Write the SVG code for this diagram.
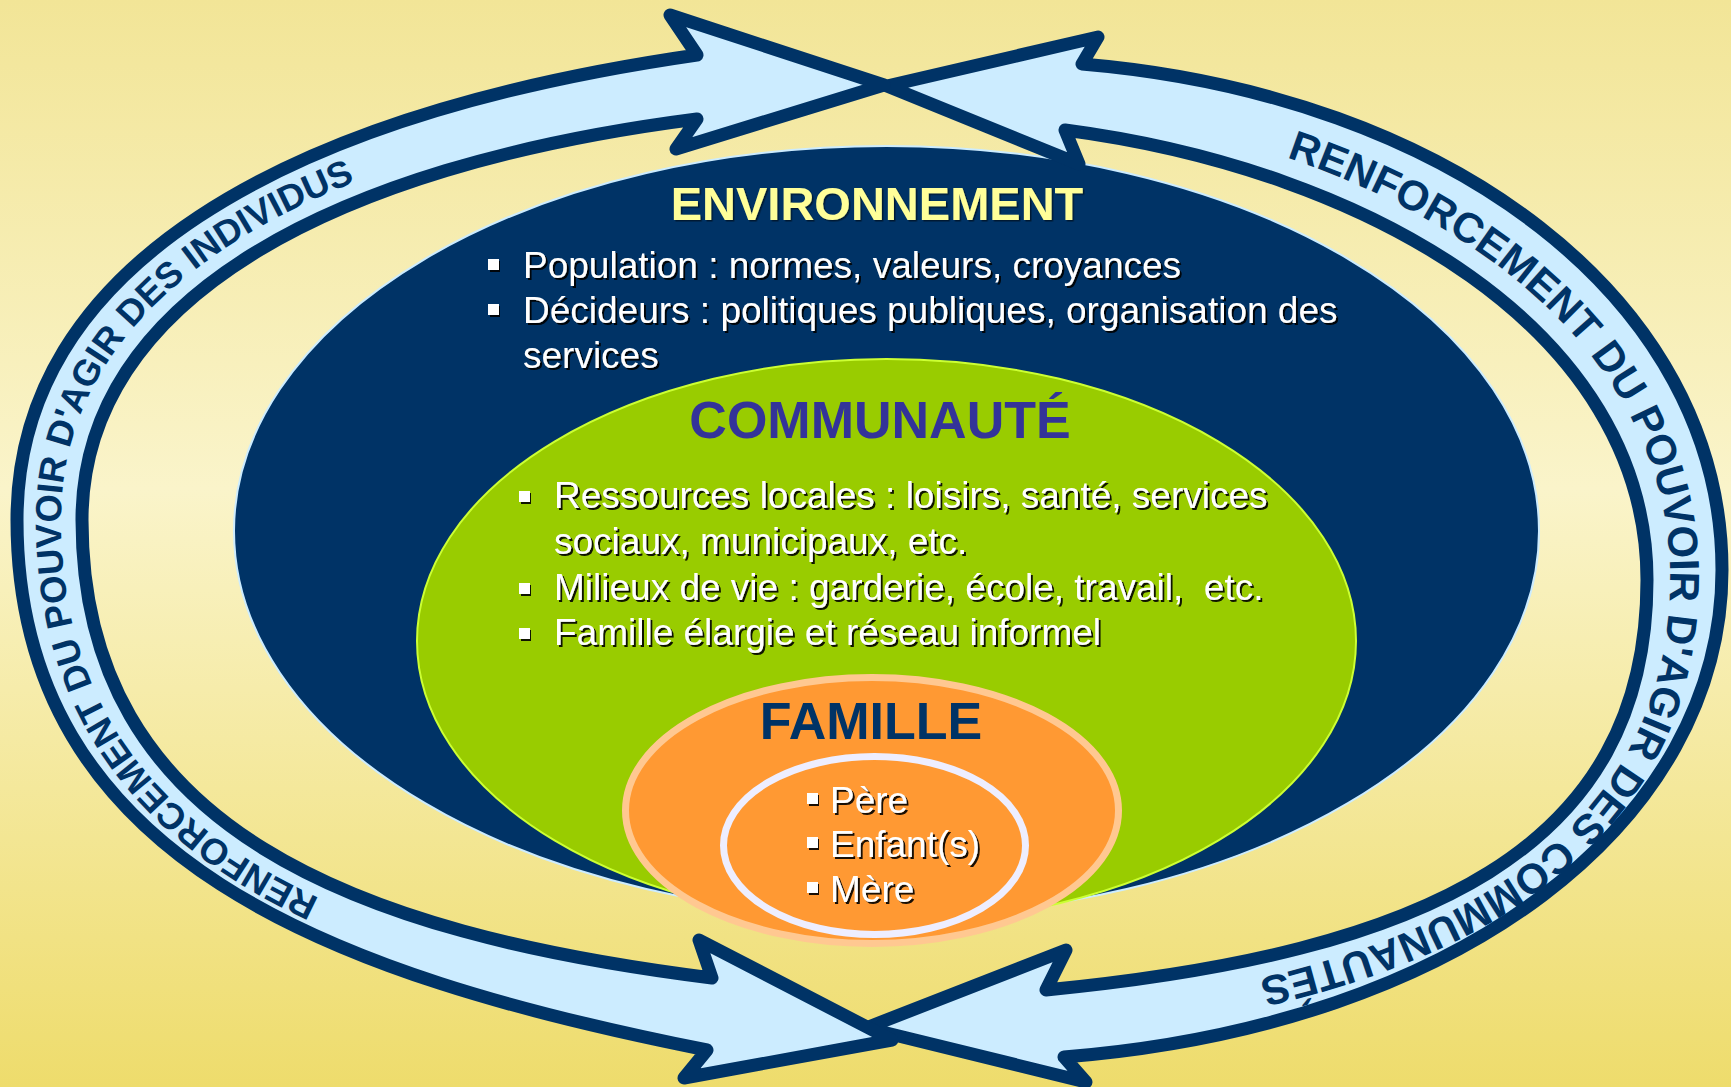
<svg xmlns="http://www.w3.org/2000/svg" width="1731" height="1087" viewBox="0 0 1731 1087">
  <defs>
    <linearGradient id="bg" x1="0" y1="0" x2="0" y2="1">
      <stop offset="0" stop-color="#F2E597"/>
      <stop offset="0.45" stop-color="#FAF4CA"/>
      <stop offset="1" stop-color="#EEDC6C"/>
    </linearGradient>
    <filter id="shadow" x="-5%" y="-20%" width="110%" height="140%">
      <feDropShadow dx="2" dy="2" stdDeviation="0.4" flood-color="#000000" flood-opacity="0.9"/>
    </filter>
    <filter id="softShadow" x="-5%" y="-20%" width="110%" height="140%">
      <feDropShadow dx="1.5" dy="1.5" stdDeviation="0.6" flood-color="#000000" flood-opacity="0.5"/>
    </filter>
    <!-- baselines for the lettering inside the two curved arrows -->
    <path id="leftBase" d="M 710 1001 C 347 947, 61 840, 61 520 C 61 290, 312 150, 694 99.5"/>
    <path id="rightBase" d="M 1070 109.5 C 1395 147, 1670 321, 1670 577 C 1670 841, 1438 975, 1051.5 1011"/>
  </defs>
  <style>
    .sans { font-family: "Liberation Sans", Arial, sans-serif; }
    .title { font-weight: bold; font-size: 52px; text-anchor: middle; }
    .item { font-size: 37px; fill: #FFFFFF; filter: url(#shadow); }
    .bullet { fill: #FFFFFF; filter: url(#shadow); }
    .band { fill: #CCECFF; stroke: #003366; stroke-width: 13; stroke-linejoin: round; }
    .bandText { font-weight: bold; fill: #003366; }
  </style>

  <rect x="0" y="0" width="1731" height="1087" fill="url(#bg)"/>

  <g id="node-environnement">
    <ellipse cx="886.5" cy="531" rx="652.5" ry="385" fill="#003366" stroke="#CCECFF" stroke-width="2"/>
    <text class="sans title" x="877" y="220" fill="#FFFF99" filter="url(#softShadow)" style="font-size:47px">ENVIRONNEMENT</text>
    <rect class="bullet" x="488" y="259" width="11" height="11"/>
    <text class="sans item" x="523" y="278">Population : normes, valeurs, croyances</text>
    <rect class="bullet" x="488" y="304" width="11" height="11"/>
    <text class="sans item" x="523" y="323">Décideurs : politiques publiques, organisation des</text>
    <text class="sans item" x="523" y="368">services</text>
  </g>

  <g id="node-communaute">
    <ellipse cx="886.5" cy="641" rx="469.5" ry="282" fill="#99CC00" stroke="#CCFF33" stroke-width="2"/>
    <text class="sans title" x="880" y="438" fill="#333399">COMMUNAUTÉ</text>
    <rect class="bullet" x="519" y="491" width="11" height="11"/>
    <text class="sans item" x="554" y="508">Ressources locales : loisirs, santé, services</text>
    <text class="sans item" x="554" y="554">sociaux, municipaux, etc.</text>
    <rect class="bullet" x="519" y="583" width="11" height="11"/>
    <text class="sans item" x="554" y="600" style="white-space:pre">Milieux de vie : garderie, école, travail,  etc.</text>
    <rect class="bullet" x="519" y="628" width="11" height="11"/>
    <text class="sans item" x="554" y="645">Famille élargie et réseau informel</text>
  </g>

  <g id="node-famille">
    <ellipse cx="872" cy="810.5" rx="246.5" ry="133" fill="#FF9933" stroke="#FFC891" stroke-width="7"/>
    <ellipse cx="874.5" cy="845.5" rx="151" ry="89" fill="#FF9933" stroke="#EEEEFF" stroke-width="7"/>
    <text class="sans title" x="871" y="739" fill="#003366">FAMILLE</text>
    <rect class="bullet" x="807" y="793" width="11" height="11"/>
    <text class="sans item" x="830" y="813">Père</text>
    <rect class="bullet" x="807" y="837" width="11" height="11"/>
    <text class="sans item" x="830" y="857">Enfant(s)</text>
    <rect class="bullet" x="807" y="882" width="11" height="11"/>
    <text class="sans item" x="830" y="902">Mère</text>
  </g>

  <g id="connectors">
    <!-- right double-headed curved arrow -->
    <g id="arrow-communautes">
      <path class="band" d="M 1082 64 C 1450 95, 1722 300, 1722 570 C 1722 820, 1464 1025, 1064 1057 L 1086 1082 L 866 1028 L 1066 950 L 1046 990 C 1426 953, 1647 850, 1647 580 C 1647 330, 1370 170, 1065 130 L 1079 164 L 887 86 L 1098 37 Z"/>
      <text class="sans bandText" font-size="42"><textPath href="#rightBase" startOffset="222">RENFORCEMENT DU POUVOIR D'AGIR DES COMMUNAUTÉS</textPath></text>
    </g>
    <!-- left double-headed curved arrow -->
    <g id="arrow-individus">
      <path class="band" d="M 697 55 C 275 116, 17 270, 17 520 C 17 860, 330 975, 707 1050 L 684 1078 L 892 1040 L 699 940 L 712 978 C 355 933, 82 830, 82 520 C 82 300, 330 166, 697 119 L 676 149 L 884 85 L 670 15 Z"/>
      <text class="sans bandText" font-size="36.5"><textPath href="#leftBase" startOffset="405">RENFORCEMENT DU POUVOIR D'AGIR DES INDIVIDUS</textPath></text>
    </g>
  </g>
</svg>
